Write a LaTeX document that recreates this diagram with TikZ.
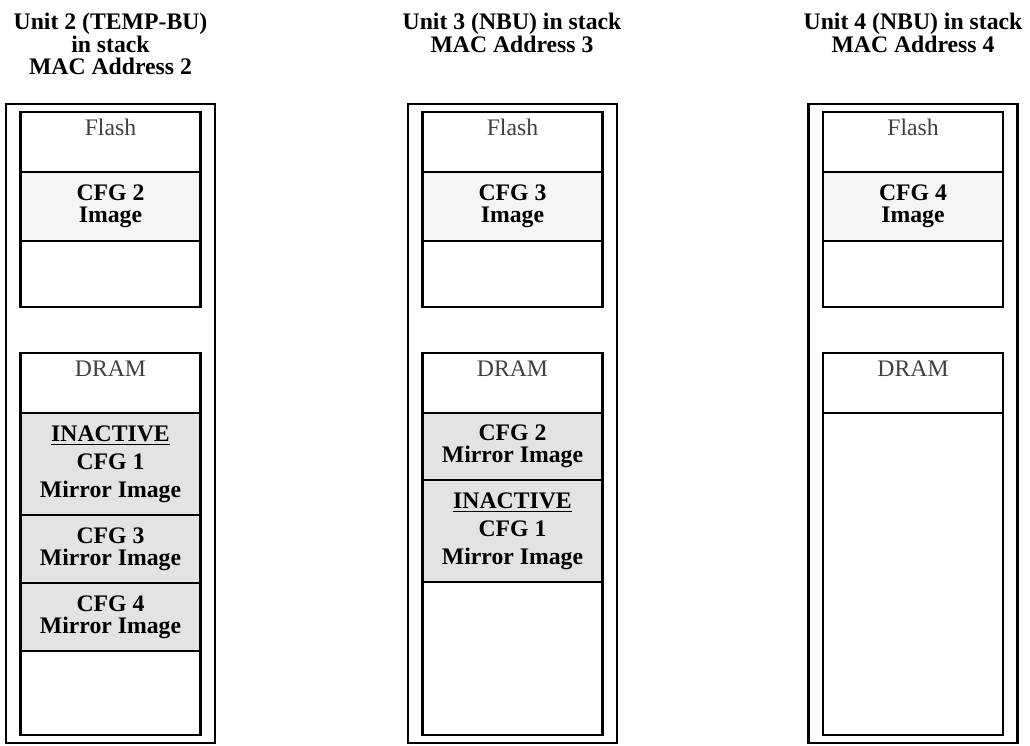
\documentclass[tikz,border=0pt]{standalone}
\usepackage{fontspec}
\setmainfont{Liberation Serif}
\usetikzlibrary{positioning}

\newlength{\pxu}
\setlength{\pxu}{0.02cm}

\begin{document}
\begin{tikzpicture}[
  x=\pxu, y=-\pxu,
  font=\fontsize{13.5}{12.8}\selectfont\bfseries,
  unit/.style={draw, line width=1.3pt, minimum width=209\pxu,
               minimum height=639\pxu, inner sep=0pt, outer sep=0pt},
  mem/.style={draw, line width=1.3pt, minimum width=180\pxu,
              inner sep=0pt, outer sep=0pt, align=center},
  img/.style={mem, fill=black!4},
  mirr/.style={mem, fill=black!11},
  hdr/.style={anchor=north, inner sep=0pt, yshift=-7\pxu,
              font=\fontsize{13.5}{12.8}\selectfont\mdseries, text=black!75},
  ttl/.style={anchor=north, align=center, inner sep=0pt},
  node distance=0pt]

  \useasboundingbox (0,0) rectangle (1030,745);

  % titles
  \node[ttl] (t2) at (110.5,13) {Unit 2 (TEMP-BU)\\ in stack\\ MAC Address 2};
  \node[ttl] (t3) at (512,13) {Unit 3 (NBU) in stack\\ MAC Address 3};
  \node[ttl] (t4) at (913,13) {Unit 4 (NBU) in stack\\ MAC Address 4};

  % unit 2
  \node[unit] (u2) at (110.5,423.5) {};
  \node[mem, minimum height=60\pxu, label={[hdr]north:Flash},
        below=8\pxu of u2.north] (u2flash) {};
  \node[img, minimum height=69\pxu, below=of u2flash] (u2img) {CFG 2\\ Image};
  \node[mem, minimum height=66\pxu, below=of u2img] (u2free) {};
  \node[mem, minimum height=60\pxu, label={[hdr]north:DRAM},
        below=46\pxu of u2free] (u2dram) {};
  \node[mirr, minimum height=102\pxu, below=of u2dram] (u2inact)
    {\underline{INACTIVE}\\[3pt] CFG 1\\[3pt] Mirror Image};
  \node[mirr, minimum height=68\pxu, below=of u2inact] (u2cfg3)
    {CFG 3\\ Mirror Image};
  \node[mirr, minimum height=68\pxu, below=of u2cfg3] (u2cfg4)
    {CFG 4\\ Mirror Image};
  \node[mem, minimum height=84\pxu, below=of u2cfg4] (u2rest) {};

  % unit 3
  \node[unit] (u3) at (512.5,423.5) {};
  \node[mem, minimum height=60\pxu, label={[hdr]north:Flash},
        below=8\pxu of u3.north] (u3flash) {};
  \node[img, minimum height=69\pxu, below=of u3flash] (u3img) {CFG 3\\ Image};
  \node[mem, minimum height=66\pxu, below=of u3img] (u3free) {};
  \node[mem, minimum height=60\pxu, label={[hdr]north:DRAM},
        below=46\pxu of u3free] (u3dram) {};
  \node[mirr, minimum height=67\pxu, below=of u3dram] (u3cfg2)
    {CFG 2\\ Mirror Image};
  \node[mirr, minimum height=102\pxu, below=of u3cfg2] (u3inact)
    {\underline{INACTIVE}\\[3pt] CFG 1\\[3pt] Mirror Image};
  \node[mem, minimum height=153\pxu, below=of u3inact] (u3rest) {};

  % unit 4
  \node[unit] (u4) at (913,423.5) {};
  \node[mem, minimum height=60\pxu, label={[hdr]north:Flash},
        below=8\pxu of u4.north] (u4flash) {};
  \node[img, minimum height=69\pxu, below=of u4flash] (u4img) {CFG 4\\ Image};
  \node[mem, minimum height=66\pxu, below=of u4img] (u4free) {};
  \node[mem, minimum height=60\pxu, label={[hdr]north:DRAM},
        below=46\pxu of u4free] (u4dram) {};
  \node[mem, minimum height=322\pxu, below=of u4dram] (u4rest) {};
\end{tikzpicture}
\end{document}
